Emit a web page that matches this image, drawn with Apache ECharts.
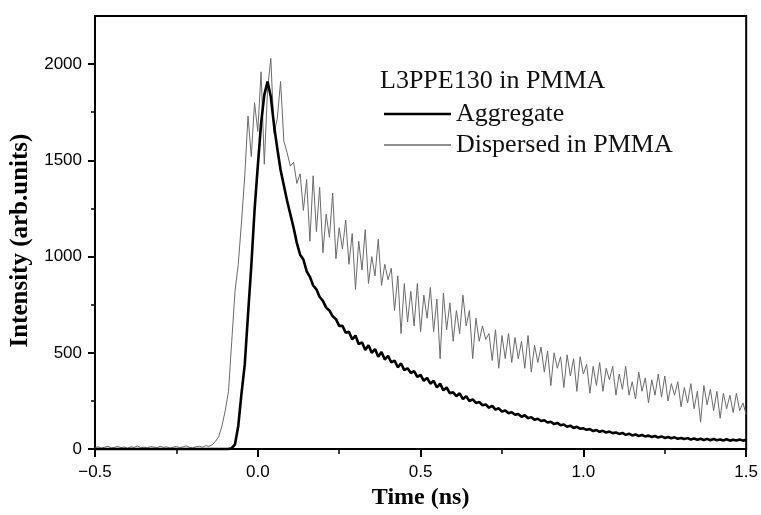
<!DOCTYPE html>
<html>
<head>
<meta charset="utf-8">
<script src="https://cdn.jsdelivr.net/npm/echarts@6/dist/echarts.min.js"></script>
<style>html,body{margin:0;padding:0;background:#fff}#c{width:761px;height:515px}</style>
</head>
<body>
<div id="c"></div>
<script>
// Time grid (ns): sample start and step of the measured decays
const timeStart = -0.5;
const timeStep = 0.01;

// Aggregate (black) intensities, one per time sample from -0.50 to 1.50 ns
const aggregate = [
  0,0,0,0,0,0,0,0,0,0, 0,0,0,0,0,0,0,0,0,0, 0,0,0,0,0,0,0,0,0,0, 0,0,0,0,0,0,0,0,0,0, 0,0,
  5,25,120,290,440,700,950,1240,
  1470,1690,1840,1910,1830,1680,1560,1450,1370,1290,
  1220,1150,1070,1010,985,925,895,850,830,790,
  770,735,720,690,675,640,640,605,610,570,
  590,545,555,515,540,500,520,480,505,465,
  485,450,460,425,445,410,420,395,405,375,
  385,355,370,340,355,320,340,305,320,290,
  295,275,290,260,275,250,258,240,245,228,
  232,215,225,205,212,195,200,186,192,178,
  182,168,176,160,166,152,158,146,150,138,
  142,130,136,124,128,116,122,110,116,106,
  108,100,104,94,99,90,95,86,91,83,
  86,79,84,74,80,71,76,68,73,66,
  70,63,68,60,66,58,63,56,61,54,
  58,52,57,50,55,49,54,47,53,46,
  52,46,50,45,51,44,49,45,50,44,
  48
];

// Dispersed in PMMA (grey) intensities, same time samples
const dispersed = [
  8,12,5,10,15,6,9,14,7,11, 4,12,9,16,8,10,6,13,11,7, 15,9,12,5,10,14,8,11,17,9, 6,12,15,10,18,14,
  22,40,65,120,200,300,560,820,960,1180,1420,1730,1520,1800,
  1650,1960,1480,1870,2030,1640,1720,1910,1600,1540,
  1470,1490,1380,1430,1240,1400,1080,1420,1130,1360,
  1020,1220,1100,1330,990,1150,1040,1190,960,1120,
  830,1080,930,1140,860,1000,900,1090,850,960,
  880,940,720,900,600,860,660,820,640,860,
  610,800,680,840,610,780,470,810,620,760,
  560,720,600,800,640,720,470,680,560,640,
  570,600,460,620,420,590,470,600,450,580,
  470,560,420,590,400,540,450,530,400,510,
  330,500,420,480,320,490,380,470,300,480,
  390,440,290,430,330,450,300,420,360,430,
  280,390,310,430,280,350,260,400,300,370,
  240,360,280,390,270,380,250,340,280,350,
  220,320,240,340,210,300,140,330,230,310,
  200,300,160,290,210,280,190,290,200,240,
  180
];

// Axis ticks
const xTicks = [-0.5, 0.0, 0.5, 1.0, 1.5];
const yTicks = [0, 500, 1000, 1500, 2000];
const yMinorTicks = [250, 750, 1250, 1750];

const toPairs = arr => arr.map((v, i) => [+(timeStart + i * timeStep).toFixed(2), v]);

const serif = '"Liberation Serif","Times New Roman",serif';
const sans = '"Liberation Sans",Arial,sans-serif';
const legendText = {fontFamily: serif, fontSize: 26, color: '#111'};

const chart = echarts.init(document.getElementById('c'), null, {renderer: 'canvas'});
chart.setOption({
  animation: false,
  backgroundColor: '#fff',
  grid: {left: 95, right: 14, top: 16, bottom: 62, show: true, borderColor: '#000', borderWidth: 2, backgroundColor: 'transparent'},
  title: {
    text: 'L3PPE130 in PMMA', left: 375, top: 63,
    textStyle: {fontFamily: serif, fontSize: 26, fontWeight: 'normal', color: '#111'}
  },
  legend: [{
    orient: 'vertical', left: 379, top: 96, icon: 'rect', itemWidth: 67, itemHeight: 2.5,
    textStyle: legendText, data: ['Aggregate']
  }, {
    orient: 'vertical', left: 379, top: 127, icon: 'rect', itemWidth: 67, itemHeight: 1.5,
    textStyle: legendText, data: ['Dispersed in PMMA']
  }],
  xAxis: {
    type: 'value', min: xTicks[0], max: xTicks[xTicks.length - 1], interval: 0.5,
    axisLine: {onZero: false, lineStyle: {color: '#000', width: 2}},
    axisTick: {inside: false, length: 8, lineStyle: {color: '#000', width: 2}},
    minorTick: {show: true, splitNumber: 2, length: 5, lineStyle: {color: '#000', width: 1.5}},
    splitLine: {show: false},
    axisLabel: {
      margin: 15, fontFamily: sans, fontSize: 17, color: '#000',
      formatter: v => (v < 0 ? '\u2212' : '') + Math.abs(v).toFixed(1)
    },
    name: 'Time (ns)', nameLocation: 'middle', nameGap: 34,
    nameTextStyle: {fontFamily: serif, fontSize: 24, fontWeight: 'bold', color: '#000'}
  },
  yAxis: [{
    type: 'value', min: 0, max: 2250, interval: 500,
    axisLine: {show: true, onZero: false, lineStyle: {color: '#000', width: 2}},
    axisTick: {show: true, inside: false, length: 7, customValues: yTicks, lineStyle: {color: '#000', width: 2}},
    splitLine: {show: false},
    axisLabel: {margin: 13, fontFamily: sans, fontSize: 17, color: '#000', customValues: yTicks, formatter: v => String(v)},
    name: 'Intensity (arb.units)', nameLocation: 'middle', nameGap: 62,
    nameTextStyle: {fontFamily: serif, fontSize: 25, fontWeight: 'bold', color: '#000', padding: [0, 16, 0, 0]}
  }, {
    type: 'value', min: 0, max: 2250, position: 'left',
    axisLine: {show: false, onZero: false},
    axisTick: {show: true, inside: false, length: 4, customValues: yMinorTicks, lineStyle: {color: '#000', width: 1.5}},
    axisLabel: {show: false},
    splitLine: {show: false}
  }],
  series: [{
    name: 'Dispersed in PMMA', type: 'line', data: toPairs(dispersed), showSymbol: false, symbol: 'none',
    lineStyle: {color: '#6a6a6a', width: 1}, itemStyle: {color: '#6a6a6a'}, z: 2
  }, {
    name: 'Aggregate', type: 'line', data: toPairs(aggregate), showSymbol: false, symbol: 'none',
    lineStyle: {color: '#000', width: 2.6}, itemStyle: {color: '#000'}, z: 3
  }]
});
</script>
</body>
</html>
